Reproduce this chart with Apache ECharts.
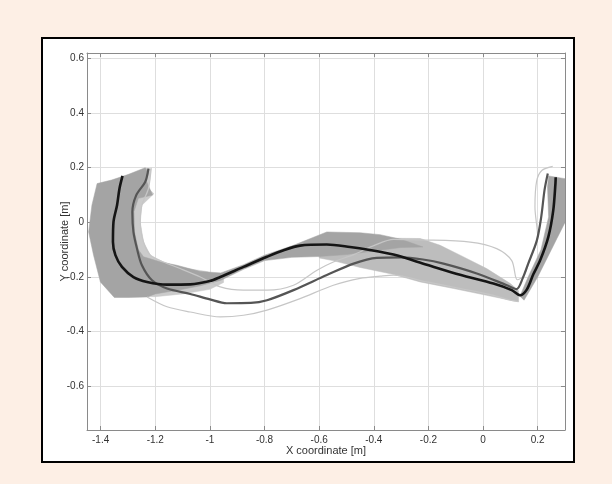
<!DOCTYPE html>
<html>
<head>
<meta charset="utf-8">
<script src="https://cdn.jsdelivr.net/npm/echarts@6/dist/echarts.min.js"></script>
<style>
html,body{margin:0;padding:0;background:#fdefe5;}
#chart{width:612px;height:484px;}
</style>
</head>
<body>
<div id="chart"></div>
<script>
// axis ranges
const xRange = [-1.45, 0.3];
const yRange = [-0.76, 0.62];
const xName = 'X coordinate [m]';
const yName = 'Y coordinate [m]';

// mean trajectory, condition A (black)
const meanA = [
  [-1.32,0.17],[-1.331,0.124],[-1.34,0.063],[-1.353,0.002],[-1.355,-0.072],[-1.346,-0.12],
  [-1.322,-0.163],[-1.28,-0.2],[-1.23,-0.218],[-1.157,-0.228],[-1.072,-0.227],[-1.0,-0.215],
  [-0.962,-0.2],[-0.877,-0.163],[-0.791,-0.126],[-0.73,-0.102],[-0.67,-0.085],[-0.572,-0.081],
  [-0.487,-0.09],[-0.42,-0.1],[-0.328,-0.118],[-0.206,-0.155],[-0.084,-0.192],[0.038,-0.224],
  [0.105,-0.248],[0.135,-0.267],[0.16,-0.246],[0.184,-0.19],[0.209,-0.139],[0.239,-0.053],
  [0.257,0.044],[0.265,0.142],[0.266,0.165]
];
// mean trajectory, condition B (dark grey)
const meanB = [
  [-1.225,0.197],[-1.237,0.148],[-1.27,0.099],[-1.284,0.038],[-1.28,-0.035],[-1.267,-0.096],
  [-1.249,-0.157],[-1.212,-0.212],[-1.157,-0.242],[-1.072,-0.262],[-1.0,-0.282],[-0.938,-0.296],
  [-0.85,-0.295],[-0.791,-0.285],[-0.694,-0.248],[-0.572,-0.193],[-0.474,-0.151],[-0.389,-0.13],
  [-0.3,-0.128],[-0.22,-0.136],[-0.145,-0.151],[-0.023,-0.187],[0.087,-0.23],[0.123,-0.244],
  [0.145,-0.205],[0.165,-0.152],[0.197,-0.066],[0.213,0.02],[0.225,0.118],[0.237,0.179]
];
// condition B spread, inner boundary (light line)
const bandBInner = [
  [-1.215,0.2],[-1.225,0.124],[-1.249,0.063],[-1.255,0.002],[-1.243,-0.072],[-1.218,-0.12],
  [-1.17,-0.145],[-1.109,-0.169],[-1.035,-0.2],[-0.962,-0.236],[-0.877,-0.248],[-0.791,-0.248],
  [-0.694,-0.23],[-0.608,-0.175],[-0.548,-0.145],[-0.474,-0.118],[-0.4,-0.085],[-0.328,-0.062],
  [-0.23,-0.064],[-0.047,-0.072],[0.05,-0.096],[0.105,-0.14],[0.125,-0.21],[0.15,-0.195],
  [0.17,-0.139],[0.2,-0.053],[0.19,0.056],[0.196,0.15],[0.215,0.19],[0.255,0.205]
];
// condition B spread, outer boundary (light line)
const bandBOuter = [
  [-1.23,-0.273],[-1.157,-0.309],[-1.072,-0.328],[-0.962,-0.346],[-0.877,-0.34],[-0.791,-0.321],
  [-0.67,-0.279],[-0.548,-0.23],[-0.45,-0.205],[-0.377,-0.197],[-0.328,-0.193],[-0.206,-0.218],
  [-0.084,-0.242],[0.038,-0.267],[0.1,-0.285],[0.13,-0.29]
];
// light filled region, left arm
const fillLightLeft = [
  [-1.237,0.2],[-1.215,0.195],[-1.225,0.124],[-1.205,0.105],[-1.249,0.063],[-1.255,0.0],
  [-1.243,-0.072],[-1.218,-0.12],[-1.17,-0.145],[-1.109,-0.165],[-1.011,-0.18],[-0.95,-0.2],
  [-0.95,-0.22],[-1.0,-0.245],[-1.1,-0.262],[-1.2,-0.272],[-1.3,-0.27],[-1.29,-0.1],[-1.28,0.1]
];
// medium filled region, middle band
const fillMid = [
  [-0.6,-0.1],[-0.45,-0.07],[-0.35,-0.058],[-0.23,-0.059],[-0.157,-0.084],[-0.084,-0.12],
  [0.013,-0.169],[0.1,-0.224],[0.13,-0.25],[0.13,-0.29],[0.1,-0.285],[0.013,-0.267],
  [-0.108,-0.242],[-0.23,-0.218],[-0.33,-0.19],[-0.45,-0.165],[-0.55,-0.14],[-0.6,-0.13]
];
// dark filled region, condition A spread (left arm + middle)
const fillDarkA = [
  [-1.413,0.142],[-1.36,0.155],[-1.30,0.175],[-1.237,0.2],[-1.225,0.18],[-1.232,0.15],
  [-1.21,0.1],[-1.262,0.088],[-1.278,0.04],[-1.276,-0.035],[-1.262,-0.1],[-1.243,-0.126],
  [-1.18,-0.145],[-1.121,-0.157],[-1.035,-0.18],[-0.96,-0.185],[-0.877,-0.155],[-0.8,-0.12],
  [-0.694,-0.084],[-0.572,-0.035],[-0.45,-0.038],[-0.377,-0.045],[-0.3,-0.062],[-0.22,-0.09],
  [-0.3,-0.092],[-0.4,-0.105],[-0.5,-0.118],[-0.6,-0.125],[-0.7,-0.128],[-0.8,-0.14],[-0.877,-0.172],
  [-0.96,-0.212],[-1.035,-0.232],[-1.1,-0.245],[-1.2,-0.262],[-1.23,-0.273],[-1.3,-0.275],
  [-1.35,-0.275],[-1.401,-0.218],[-1.426,-0.12],[-1.444,-0.035],[-1.432,0.063]
];
// dark filled region, condition A spread (right arm)
const fillDarkRight = [
  [0.135,-0.27],[0.165,-0.2],[0.212,-0.1],[0.24,0.02],[0.236,0.13],[0.24,0.17],
  [0.3,0.16],[0.3,0.0],[0.27,-0.06],[0.25,-0.1],[0.2,-0.2],[0.15,-0.285]
];

function polySeries(points, color, z) {
  return {
    type: 'custom',
    coordinateSystem: 'cartesian2d',
    clip: true,
    silent: true,
    z: z,
    data: points,
    renderItem: function (params, api) {
      if (params.dataIndex !== 0) return null;
      const pts = points.map(p => api.coord(p));
      return { type: 'polygon', shape: { points: pts }, style: { fill: color, stroke: color, lineWidth: 0.5 } };
    }
  };
}
function lineSeries(points, color, width, z) {
  return {
    type: 'line', data: points, showSymbol: false, symbol: 'none', smooth: 0.3,
    clip: true, silent: true, z: z,
    lineStyle: { color: color, width: width }
  };
}

const axisCommon = {
  type: 'value', minInterval: 0.2, maxInterval: 0.2, splitNumber: 8,
  axisLine: { show: true, onZero: false, lineStyle: { color: '#8a8a8a', width: 1 } },
  axisTick: { show: true, inside: true, length: 4, lineStyle: { color: '#8a8a8a' } }
};

const chart = echarts.init(document.getElementById('chart'), null, { renderer: 'canvas' });
chart.setOption({
  animation: false,
  backgroundColor: 'transparent',
  graphic: [{
    type: 'rect', z: -10, silent: true,
    shape: { x: 42, y: 38, width: 532, height: 424 },
    style: { fill: '#ffffff', stroke: '#000000', lineWidth: 2 }
  }],
  grid: { left: 87, right: 47, top: 53, bottom: 54, show: false, containLabel: false },
  xAxis: [
    Object.assign({}, axisCommon, {
      min: xRange[0], max: xRange[1], position: 'bottom',
      name: xName, nameLocation: 'middle', nameGap: 15, nameMoveOverlap: false,
      nameTextStyle: { fontFamily: 'Liberation Sans', fontSize: 11, color: '#333' },
      axisLabel: { show: true, showMinLabel: false, showMaxLabel: false, margin: 5,
        fontFamily: 'Liberation Sans', fontSize: 10, color: '#333' },
      splitLine: { show: true, lineStyle: { color: '#dedede', width: 1 } }
    }),
    Object.assign({}, axisCommon, {
      min: xRange[0], max: xRange[1], position: 'top',
      axisLabel: { show: false }, splitLine: { show: false }
    })
  ],
  yAxis: [
    Object.assign({}, axisCommon, {
      min: yRange[0], max: yRange[1], position: 'left',
      name: yName, nameLocation: 'middle', nameGap: 17, nameMoveOverlap: false,
      nameTextStyle: { fontFamily: 'Liberation Sans', fontSize: 11, color: '#333' },
      axisLabel: { show: true, showMinLabel: false, showMaxLabel: false, margin: 3,
        fontFamily: 'Liberation Sans', fontSize: 10, color: '#333' },
      splitLine: { show: true, lineStyle: { color: '#dedede', width: 1 } }
    }),
    Object.assign({}, axisCommon, {
      min: yRange[0], max: yRange[1], position: 'right',
      axisLabel: { show: false }, splitLine: { show: false }
    })
  ],
  series: [
    polySeries(fillLightLeft, '#cbcbcb', 1),
    polySeries(fillMid, '#bdbdbd', 2),
    polySeries(fillDarkA, '#a4a4a4', 3),
    polySeries(fillDarkRight, '#a4a4a4', 3),
    lineSeries(bandBInner, '#c6c6c6', 1.2, 4),
    lineSeries(bandBOuter, '#c6c6c6', 1.2, 4),
    lineSeries(meanB, '#555555', 2.2, 5),
    lineSeries(meanA, '#151515', 2.6, 6)
  ]
});
</script>
</body>
</html>
